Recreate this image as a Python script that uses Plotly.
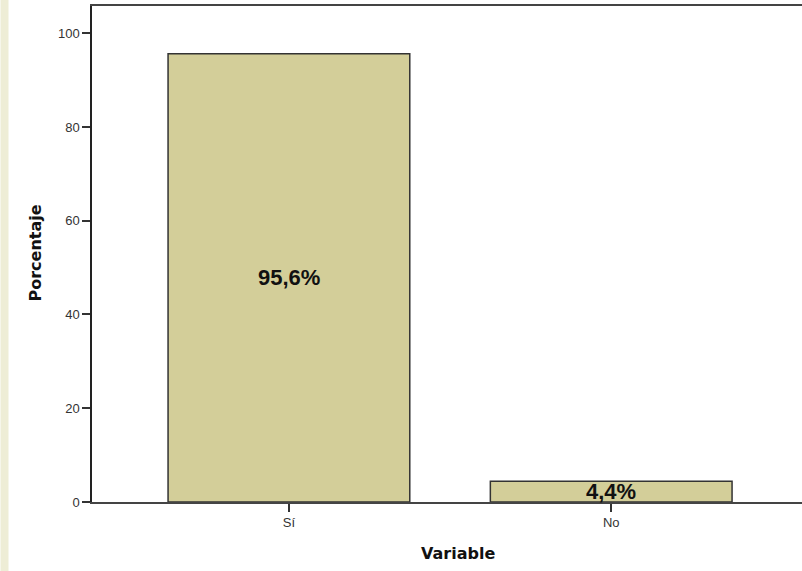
import plotly.graph_objects as go

categories = ["Sí", "No"]
values = [95.6, 4.4]
labels = ["95,6%", "4,4%"]
y_ticks = [0, 20, 40, 60, 80, 100]

W, H = 802, 571
ml, mr, mt, mb = 91.5, 0, 6, 69
PH = H - mt - mb

fig = go.Figure()
fig.add_trace(go.Bar(
    x=categories, y=values, width=0.75,
    marker=dict(color="#D3CE99", line=dict(color="#333333", width=1.5)),
    hoverinfo="skip",
))

for c, v, t in zip(categories, values, labels):
    fig.add_annotation(x=c, y=v / 2, text="<b>" + t + "</b>", showarrow=False,
                       font=dict(family="Liberation Sans, Arial", size=22, color="#111111"),
                       xanchor="center", yanchor="middle")

fig.add_annotation(xref="paper", yref="paper", x=(458 - ml) / (W - ml), y=(502 - 553) / PH,
                   text="<b>Variable</b>", showarrow=False, xanchor="center", yanchor="middle",
                   font=dict(family="DejaVu Sans", size=16, color="#111111"))
fig.add_annotation(xref="paper", yref="paper", x=(35 - ml) / (W - ml), y=(502 - 253) / PH,
                   text="<b>Porcentaje</b>", showarrow=False, textangle=-90,
                   xanchor="center", yanchor="middle",
                   font=dict(family="DejaVu Sans", size=16, color="#111111"))

fig.add_shape(type="rect", xref="paper", yref="paper", xsizemode="pixel", ysizemode="pixel",
              xanchor=0, yanchor=0, x0=-ml, x1=-ml + 8, y0=-mb - 5, y1=PH + mt + 5,
              fillcolor="#EEEDD6", line=dict(width=0), layer="below")

fig.update_layout(
    width=W, height=H,
    margin=dict(l=ml, r=mr, t=mt, b=mb, pad=0),
    paper_bgcolor="white", plot_bgcolor="white",
    showlegend=False,
    xaxis=dict(range=[-0.611, 1.592], showgrid=False, zeroline=False,
               showline=True, linecolor="#444444", linewidth=1.5, mirror=True,
               ticks="outside", ticklen=8, tickcolor="#333333", tickwidth=1.5,
               tickfont=dict(family="Liberation Sans, Arial", size=13, color="#333333")),
    yaxis=dict(range=[0, 105.8], showgrid=False, zeroline=False,
               tickvals=y_ticks, ticktext=[str(t) for t in y_ticks],
               showline=True, linecolor="#222222", linewidth=1.5,
               ticks="outside", ticklen=8, tickcolor="#333333", tickwidth=1.5,
               tickfont=dict(family="Liberation Sans, Arial", size=13, color="#333333")),
)

fig.write_html("out.html", config={"displayModeBar": False},
               post_script="document.body.style.margin='0';document.body.style.overflow='hidden';")
